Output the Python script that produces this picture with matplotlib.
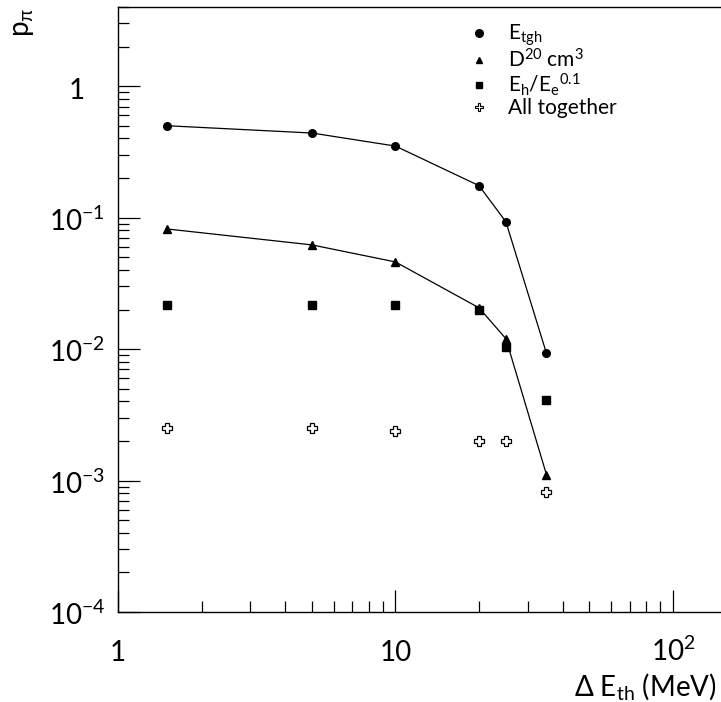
import matplotlib
matplotlib.use('Agg')
import matplotlib.pyplot as plt
import matplotlib.transforms as mtransforms
from matplotlib.lines import Line2D
from matplotlib.ticker import FixedLocator, LogLocator, NullFormatter

plt.rcParams['font.family'] = ['Lato', 'DejaVu Sans']
plt.rcParams['mathtext.fontset'] = 'custom'
plt.rcParams['mathtext.rm'] = 'Lato'
plt.rcParams['mathtext.it'] = 'Lato'
plt.rcParams['mathtext.bf'] = 'Lato'

# threshold energy (MeV)
energy = [1.5, 5, 10, 20, 25, 35]

# pion probability for each method
p_etgh = [0.50, 0.44, 0.35, 0.175, 0.093, 0.0093]
p_d20 = [0.082, 0.062, 0.046, 0.0206, 0.012, 0.00111]
p_ratio = [0.0217, 0.0217, 0.0215, 0.0200, 0.0103, 0.0041]
p_all = [0.0025, 0.0025, 0.0024, 0.0020, 0.0020, 0.00082]

labels = [r'E$_{\mathrm{tgh}}$',
          r'D$^{\mathrm{20}}$ cm$^{\mathrm{3}}$',
          r'E$_{\mathrm{h}}$/E$_{\mathrm{e}}$$^{\mathrm{0.1}}$',
          'All together']

x_ticks = [1, 10, 100]
x_ticklabels = ['1', '10', r'10$^{\mathrm{2}}$']
y_ticks = [1e-4, 1e-3, 1e-2, 1e-1, 1]
y_ticklabels = [r'10$^{\mathrm{-4}}$', r'10$^{\mathrm{-3}}$', r'10$^{\mathrm{-2}}$',
                r'10$^{\mathrm{-1}}$', '1']

fig = plt.figure(figsize=(7.21, 7.02), dpi=100)
ax = fig.add_axes([118 / 721, 90 / 702, 1 - 118 / 721, 605 / 702])

ax.plot(energy, p_etgh, 'k-', lw=0.9, marker='o', ms=5.5)
ax.plot(energy, p_d20, 'k-', lw=0.9, marker='^', ms=5.5)
ax.plot(energy, p_ratio, 'ks', ms=5.3)
ax.plot(energy, p_all, 'kP', ms=6.5, mfc='white', mew=0.9)

ax.set_xscale('log')
ax.set_yscale('log')
ax.set_xlim(1, 149)
ax.set_ylim(1e-4, 4)

ax.spines['right'].set_visible(False)
for s in ['left', 'bottom', 'top']:
    ax.spines[s].set_linewidth(1.0)

ax.xaxis.set_major_locator(FixedLocator(x_ticks))
ax.yaxis.set_major_locator(FixedLocator(y_ticks))
ax.xaxis.set_minor_locator(LogLocator(base=10, subs=range(2, 10)))
ax.yaxis.set_minor_locator(LogLocator(base=10, subs=range(2, 10)))
ax.xaxis.set_major_formatter(NullFormatter())
ax.yaxis.set_major_formatter(NullFormatter())
ax.xaxis.set_minor_formatter(NullFormatter())
ax.yaxis.set_minor_formatter(NullFormatter())
ax.tick_params(which='both', direction='in', top=False, right=False, width=0.9)
ax.tick_params(which='major', length=16)
ax.tick_params(which='minor', length=8)

# tick labels, centred like the original
xtrans = mtransforms.offset_copy(ax.get_xaxis_transform(), fig=fig, x=0, y=-49, units='dots')
for xv, lab in zip(x_ticks, x_ticklabels):
    ax.text(xv, 0, lab, transform=xtrans, ha='center', va='baseline', fontsize=20, clip_on=False)
ytrans = mtransforms.offset_copy(ax.get_yaxis_transform(), fig=fig, x=-41, y=-13, units='dots')
for yv, lab in zip(y_ticks, y_ticklabels):
    ax.text(0, yv, lab, transform=ytrans, ha='center', va='baseline', fontsize=20, clip_on=False)

fig.text(717 / 721, 1 - 695 / 702, r'$\Delta$ E$_{\mathrm{th}}$ (MeV)', ha='right', va='baseline', fontsize=20)
fig.text(23 / 721, 1 - 8 / 702, r'p$_{\pi}$', rotation=90, ha='center', va='top', fontsize=20)

handles = [Line2D([], [], ls='none', color='k', marker='o', ms=5.5),
           Line2D([], [], ls='none', color='k', marker='^', ms=4.5),
           Line2D([], [], ls='none', color='k', marker='s', ms=5),
           Line2D([], [], ls='none', color='k', marker='P', ms=6, mfc='white', mew=0.8)]
ax.legend(handles, labels, loc='upper left', bbox_to_anchor=(0.55, 1.005), frameon=False,
          fontsize=15, handlelength=1.0, handletextpad=0.9, labelspacing=0.0)

fig.savefig('out.png', dpi=100)
